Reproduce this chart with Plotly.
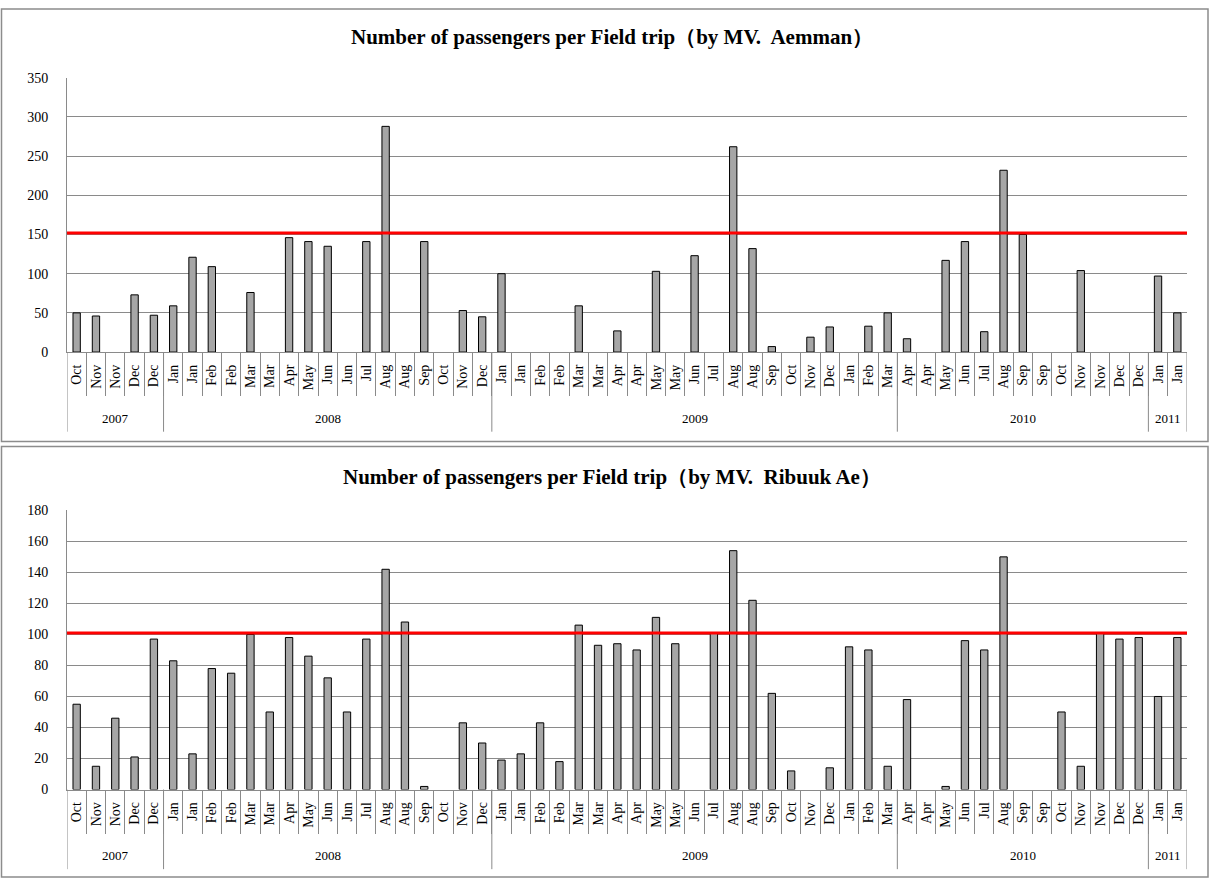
import plotly.graph_objects as go

# ---------------- data ----------------
years = ["2007", "2008", "2009", "2010", "2011"]
year_sizes = [5, 17, 21, 13, 2]
months = ["Oct", "Nov", "Nov", "Dec", "Dec",
          "Jan", "Jan", "Feb", "Feb", "Mar", "Mar", "Apr", "May", "Jun", "Jun", "Jul", "Aug", "Aug", "Sep", "Oct", "Nov", "Dec",
          "Jan", "Jan", "Feb", "Feb", "Mar", "Mar", "Apr", "Apr", "May", "May", "Jun", "Jul", "Aug", "Aug", "Sep", "Oct", "Nov", "Dec", "Jan", "Feb", "Mar",
          "Apr", "Apr", "May", "Jun", "Jul", "Aug", "Sep", "Sep", "Oct", "Nov", "Nov", "Dec", "Dec",
          "Jan", "Jan"]
aemman = [50, 46, None, 73, 47,
          59, 121, 109, None, 76, None, 146, 141, 135, None, 141, 288, None, 141, None, 53, 45,
          100, None, None, None, 59, None, 27, None, 103, None, 123, None, 262, 132, 7, None, 19, 32, None, 33, 50,
          17, None, 117, 141, 26, 232, 150, None, None, 104, None, None, None,
          97, 50]
ribuuk = [55, 15, 46, 21, 97,
          83, 23, 78, 75, 100, 50, 98, 86, 72, 50, 97, 142, 108, 2, None, 43, 30,
          19, 23, 43, 18, 106, 93, 94, 90, 111, 94, None, 101, 154, 122, 62, 12, None, 14, 92, 90, 15,
          58, None, 2, 96, 90, 150, None, None, 50, 15, 101, 97, 98,
          60, 98]
aemman_ref = 152
ribuuk_ref = 101
titles = ["Number of passengers per Field trip（by MV.  Aemman）",
          "Number of passengers per Field trip（by MV.  Ribuuk Ae）"]

# ---------------- layout helpers ----------------
W, H = 1210, 887
def PX(x): return x / W
def PY(y): return 1 - y / H

SERIF = "Liberation Serif, Times New Roman, serif"
GRID = "#8a8a8a"
n = len(months)
xs = list(range(n))

panels = [
    dict(vals=aemman, ref=aemman_ref, title=titles[0], ymax=350, dtick=50,
         top=72, bottom=351, box=(2, 442), title_y=31, year_y=419, div_end=432),
    dict(vals=ribuuk, ref=ribuuk_ref, title=titles[1], ymax=180, dtick=20,
         top=512, bottom=796, box=(447, 885), title_y=478, year_y=863, div_end=877),
]

fig = go.Figure()
shapes, annotations = [], []
bounds = [0]
for s in year_sizes:
    bounds.append(bounds[-1] + s)

for i, p in enumerate(panels):
    xa = "x" if i == 0 else "x2"
    ya = "y" if i == 0 else "y2"
    fig.add_trace(go.Bar(x=xs, y=p["vals"], xaxis=xa, yaxis=ya, width=0.38,
                         marker=dict(color="#a6a6a6", line=dict(color="black", width=1)),
                         showlegend=False))
    fig.add_trace(go.Scatter(x=[-0.5, n - 0.5], y=[p["ref"], p["ref"]], xaxis=xa, yaxis=ya,
                             mode="lines", line=dict(color="#ff0000", width=3),
                             showlegend=False, hoverinfo="skip"))
    key = "" if i == 0 else "2"
    fig.update_layout(**{
        "xaxis" + key: dict(
            domain=[PX(67), PX(1187)], anchor=ya, range=[-0.5, n - 0.5],
            tickmode="array", tickvals=xs, ticktext=months, tickangle=-90,
            ticks="", ticklabelstandoff=6,
            tickfont=dict(family=SERIF, size=14, color="black"),
            showline=True, linecolor=GRID, linewidth=1, showgrid=False, zeroline=False,
            minor=dict(tickmode="array", tickvals=[b - 0.5 for b in range(1, n)],
                       ticks="outside", ticklen=43, tickcolor=GRID, tickwidth=1, showgrid=False),
        ),
        "yaxis" + key: dict(
            domain=[PY(p["bottom"]), PY(p["top"])], anchor=xa, range=[0, p["ymax"]],
            dtick=p["dtick"], tick0=0, showgrid=True, gridcolor=GRID, gridwidth=1,
            showline=True, linecolor=GRID, linewidth=1, zeroline=False, ticks="",
            ticklabelstandoff=15, tickfont=dict(family=SERIF, size=14, color="black"),
        ),
    })
    # chart border
    b0, b1 = p["box"]
    shapes.append(dict(type="rect", xref="paper", yref="paper", x0=PX(1.5), x1=PX(1208),
                       y0=PY(b1), y1=PY(b0), line=dict(color="#8c8c8c", width=1.5)))
    # year group dividers and labels
    for b in bounds:
        shapes.append(dict(type="line", xref=xa, yref="paper", x0=b - 0.5, x1=b - 0.5,
                           y0=PY(p["bottom"]), y1=PY(p["div_end"]),
                           line=dict(color=GRID, width=1)))
    for yr, a, bnd in zip(years, bounds[:-1], bounds[1:]):
        annotations.append(dict(text=yr, xref=xa, yref="paper", x=(a + bnd - 1) / 2, y=PY(p["year_y"]),
                                yanchor="middle", showarrow=False,
                                font=dict(family=SERIF, size=13, color="black")))
    annotations.append(dict(text="<b>" + p["title"] + "</b>", xref="paper", yref="paper",
                            x=PX(612), y=PY(p["title_y"]), yanchor="middle", showarrow=False,
                            font=dict(family=SERIF, size=21, color="black")))

fig.update_layout(width=W, height=H, margin=dict(l=0, r=0, t=0, b=0),
                  paper_bgcolor="white", plot_bgcolor="white",
                  shapes=shapes, annotations=annotations, bargap=0.6)
fig.write_html("out.html")
